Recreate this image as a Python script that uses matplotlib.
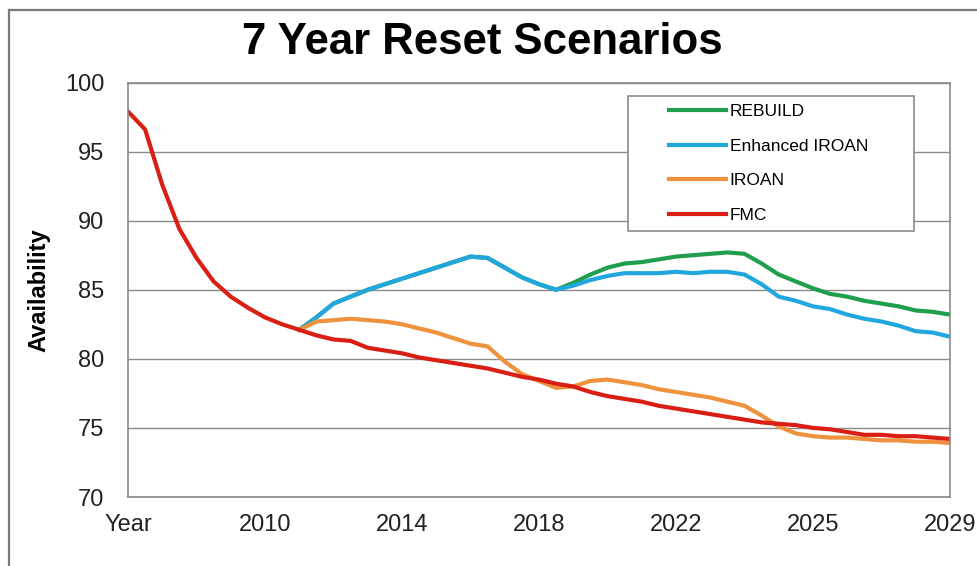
from matplotlib import pyplot as plt
from matplotlib.patches import Rectangle
from matplotlib.lines import Line2D
import numpy as np

plt.rcParams['font.family'] = ['Liberation Sans', 'DejaVu Sans']

tick_labels = ["Year", "2010", "2014", "2018", "2022", "2025", "2029"]

fmc = [97.9, 96.6, 92.6, 89.4, 87.3, 85.6, 84.5, 83.7, 83.0, 82.5,
       82.1, 81.7, 81.4, 81.3, 80.8, 80.6, 80.4, 80.1, 79.9, 79.7,
       79.5, 79.3, 79.0, 78.7, 78.5, 78.2, 78.0, 77.6, 77.3, 77.1,
       76.9, 76.6, 76.4, 76.2, 76.0, 75.8, 75.6, 75.4, 75.3, 75.2,
       75.0, 74.9, 74.7, 74.5, 74.5, 74.4, 74.4, 74.3, 74.2]

# the three reset scenarios split off from FMC at step 10
branch_start = 10
enhanced = [82.1, 83.0, 84.0, 84.5, 85.0, 85.4, 85.8, 86.2, 86.6, 87.0,
            87.4, 87.3, 86.6, 85.9, 85.4, 85.0, 85.3, 85.7, 86.0, 86.2,
            86.2, 86.2, 86.3, 86.2, 86.3, 86.3, 86.1, 85.4, 84.5, 84.2,
            83.8, 83.6, 83.2, 82.9, 82.7, 82.4, 82.0, 81.9, 81.6]
rebuild = [82.1, 83.0, 84.0, 84.5, 85.0, 85.4, 85.8, 86.2, 86.6, 87.0,
           87.4, 87.3, 86.6, 85.9, 85.4, 85.0, 85.5, 86.1, 86.6, 86.9,
           87.0, 87.2, 87.4, 87.5, 87.6, 87.7, 87.6, 86.9, 86.1, 85.6,
           85.1, 84.7, 84.5, 84.2, 84.0, 83.8, 83.5, 83.4, 83.2]
iroan = [82.1, 82.7, 82.8, 82.9, 82.8, 82.7, 82.5, 82.2, 81.9, 81.5,
         81.1, 80.9, 79.8, 78.9, 78.4, 77.9, 78.0, 78.4, 78.5, 78.3,
         78.1, 77.8, 77.6, 77.4, 77.2, 76.9, 76.6, 75.9, 75.1, 74.6,
         74.4, 74.3, 74.3, 74.2, 74.1, 74.1, 74.0, 74.0, 73.9]

x = np.arange(len(fmc))
xb = np.arange(branch_start, branch_start + len(iroan))

W, H = 977, 566
fig = plt.figure(figsize=(W / 100, H / 100), dpi=100)
ax = fig.add_axes([128 / W, 1 - 497 / H, (950 - 128) / W, (497 - 82.5) / H])

lw = 3.0
ax.plot(xb, rebuild, color="#1f9e4b", lw=lw, label="REBUILD")
ax.plot(xb, enhanced, color="#21a6de", lw=lw, label="Enhanced IROAN")
ax.plot(xb, iroan, color="#ef923d", lw=lw, label="IROAN")
ax.plot(x, fmc, color="#d91e14", lw=lw, label="FMC")

ax.set_xlim(0, len(fmc) - 1)
ax.set_ylim(70, 100)
ax.set_xticks(np.linspace(0, len(fmc) - 1, len(tick_labels)), tick_labels)
ax.set_yticks(range(70, 101, 5))
ax.tick_params(length=0, labelsize=17, colors="#222222")
ax.tick_params(axis="y", pad=17)
ax.tick_params(axis="x", pad=12)
ax.grid(axis="y", color="#8a8a8a", lw=1.0)
ax.set_axisbelow(True)
for s in ax.spines.values():
    s.set_color("#8a8a8a")
    s.set_linewidth(1.2)

ax.set_ylabel("Availability", fontsize=17, fontweight="bold")
ax.yaxis.set_label_coords(-(128 - 50) / (950 - 128), 0.5)

fig.text(0.494, 1 - 42 / H, "7 Year Reset Scenarios", ha="center", va="center",
         fontsize=31.5, fontweight="bold")

# legend box drawn by hand so the entries can sit off-centre
fig.add_artist(Rectangle((628 / W, 1 - 231 / H), (914 - 628) / W, (231 - 96) / H,
                         transform=fig.transFigure, facecolor="white",
                         edgecolor="#8a8a8a", lw=1.2, zorder=4))
fig.legend(loc="upper left", bbox_to_anchor=(669 / W, 1 - 104 / H), frameon=False,
           fontsize=12.5, handlelength=3.3, handletextpad=0.2, labelspacing=1.12,
           borderpad=0, borderaxespad=0)

# outer border of the chart area
border = dict(color="#7a7a7a", lw=1.6, transform=fig.transFigure)
fig.add_artist(Line2D([9 / W, 1], [1 - 10 / H, 1 - 10 / H], **border))
fig.add_artist(Line2D([9 / W, 9 / W], [1 - 10 / H, 0], **border))

fig.savefig("out.png", dpi=100)
